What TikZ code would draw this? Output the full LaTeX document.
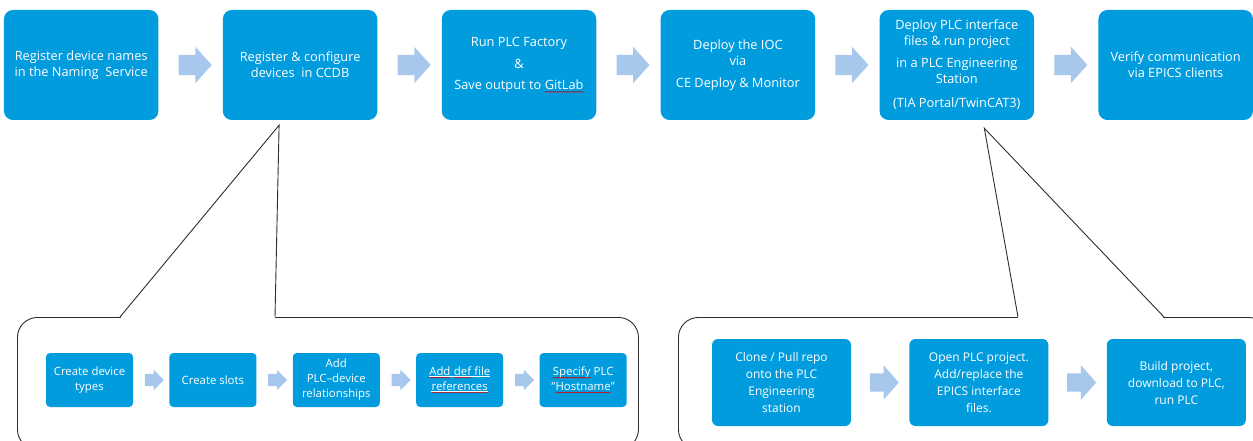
\documentclass[tikz,border=0pt]{standalone}
\usepackage{fontspec}
\setmainfont{Open Sans}
\usetikzlibrary{positioning,calc,shapes.arrows,decorations.pathmorphing}

\definecolor{boxblue}{RGB}{0,156,222}
\definecolor{arrowblue}{RGB}{167,200,236}
\definecolor{framegray}{RGB}{45,45,45}

% spell-check squiggle and plain underline
\tikzset{wordbox/.style={rectangle,draw=none,fill=none,text=white,sharp corners,minimum width=0pt,minimum height=0pt,inner sep=0pt,outer sep=0pt,align=left}}
\newcommand\squig[1]{\tikz[baseline=(sq.base)]{\node[wordbox] (sq) {#1};\draw[sharp corners,fill=none,red!85!black,line width=0.45pt,decorate,decoration={snake,amplitude=0.45pt,segment length=2pt}] ([yshift=-2.2pt]sq.base west) -- ([yshift=-2.2pt]sq.base east);}}
\newcommand\wline[1]{\tikz[baseline=(wl.base)]{\node[wordbox] (wl) {#1};\draw[sharp corners,fill=none,white,line width=0.5pt] ([yshift=-1.2pt]wl.base west) -- ([yshift=-1.2pt]wl.base east);}}

\begin{document}
\begin{tikzpicture}
	[x=1pt,y=-1pt,
	stepbox/.style={rectangle,rounded corners=9pt,fill=boxblue,text=white,align=center,minimum width=154.5pt,minimum height=110pt,inner sep=2pt,font=\fontsize{12.8}{16}\selectfont},
	subbox/.style={rectangle,rounded corners=4pt,fill=boxblue,text=white,align=center,minimum width=87pt,minimum height=54pt,inner sep=1pt,font=\fontsize{11.4}{15}\selectfont},
	plcbox/.style={rectangle,rounded corners=6pt,fill=boxblue,text=white,align=center,minimum width=139pt,minimum height=87pt,inner sep=1pt,font=\fontsize{12}{17}\selectfont},
	bigarrow/.style={single arrow,fill=arrowblue,inner xsep=0pt,inner ysep=10pt,minimum height=33pt,single arrow head extend=8pt,single arrow tip angle=96},
	subarrow/.style={single arrow,fill=arrowblue,inner xsep=0pt,inner ysep=6pt,minimum height=19pt,single arrow head extend=4pt,single arrow tip angle=90},
	plcarrow/.style={single arrow,fill=arrowblue,inner xsep=0pt,inner ysep=9pt,minimum height=29pt,single arrow head extend=8pt,single arrow tip angle=97},
	frame/.style={rectangle,draw=framegray,line width=0.9pt,rounded corners=20pt,inner sep=0pt},
	pointer/.style={draw=framegray,line width=0.9pt,line join=miter}]

	\useasboundingbox (0,0) rectangle (1253,441);

	% main workflow
	\node[stepbox] (reg) at (81.2,65) {Register device names\\in the Naming\ \ Service};
	\node[stepbox, right=64pt of reg] (ccdb) {Register \& configure\\devices\ \ in CCDB};
	\node[stepbox, right=64pt of ccdb] (plcf) {Run PLC Factory\\[6pt]\&\\[5pt]Save output to \squig{GitLab}};
	\node[stepbox, right=64pt of plcf] (ioc) {Deploy the IOC\\via\\[6pt]CE Deploy \& Monitor};
	\node[stepbox, right=64pt of ioc] (deploy) {Deploy PLC interface\\files \& run project\\[6pt]in a PLC Engineering\\Station\\[8pt](TIA Portal/TwinCAT3)};
	\node[stepbox, right=64pt of deploy] (verify) {Verify communication\\via EPICS clients};

	\foreach \a/\b in {reg/ccdb,ccdb/plcf,plcf/ioc,ioc/deploy,deploy/verify}
		\node[bigarrow] (\a-\b) at ($(\a.east)!0.5!(\b.west)$) {};

	% CCDB detail callout
	\node[frame, minimum width=621pt, minimum height=132pt, anchor=north west] (ccdbframe) at (17,317) {};
	\coordinate (ccdbtip) at ($(ccdb.south)+(-21,5)$);
	\coordinate (ccdbL) at (120,317);
	\coordinate (ccdbR) at (275,317);
	\fill[white] ($(ccdbL)+(0,1.5)$) -- (ccdbtip) -- ($(ccdbR)+(0,1.5)$) -- cycle;
	\draw[pointer] (ccdbL) -- (ccdbtip) -- (ccdbR);

	\node[subbox] (types) at (89.5,380) {Create device\\types};
	\node[subbox, right=36pt of types] (slots) {Create slots};
	\node[subbox, right=36pt of slots] (rels) {Add\\PLC–device\\relationships};
	\node[subbox, right=36pt of rels] (deffiles) {\wline{\squig{Add} \squig{def} file}\\\wline{\squig{references}}};
	\node[subbox, right=36pt of deffiles] (hostname) {\squig{Specify} PLC\\“\squig{Hostname}”};

	\foreach \a/\b in {types/slots,slots/rels,rels/deffiles,deffiles/hostname}
		\node[subarrow] (\a-\b) at ($(\a.east)!0.5!(\b.west)$) {};

	% engineering station callout
	\node[frame, minimum width=590pt, minimum height=132pt, anchor=north west] (plcframe) at (678,317) {};
	\coordinate (plctip) at ($(deploy.south)+(27.5,8)$);
	\coordinate (plcL) at (1018,317);
	\coordinate (plcR) at (1164,317);
	\fill[white] ($(plcL)+(0,1.5)$) -- (plctip) -- ($(plcR)+(0,1.5)$) -- cycle;
	\draw[pointer] (plcL) -- (plctip) -- (plcR);

	\node[plcbox] (clone) at (781.5,382.5) {Clone / Pull repo\\onto the PLC\\Engineering\\station};
	\node[plcbox, right=58pt of clone] (open) {Open PLC project.\\Add/replace the\\EPICS interface\\files.};
	\node[plcbox, right=58pt of open] (build) {Build project,\\download to PLC,\\run PLC};

	\foreach \a/\b in {clone/open,open/build}
		\node[plcarrow] (\a-\b) at ($(\a.east)!0.5!(\b.west)$) {};
\end{tikzpicture}
\end{document}
